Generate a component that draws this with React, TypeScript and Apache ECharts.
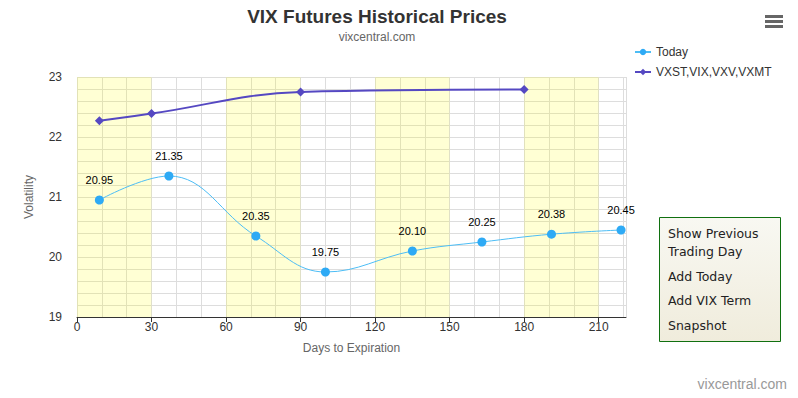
import React, { useEffect, useRef } from "react";
import * as echarts from "echarts";

const todayDays = [9, 37, 72, 100, 135, 163, 191, 219];
const todayValues = [20.95, 21.35, 20.35, 19.75, 20.1, 20.25, 20.38, 20.45];
const termDays = [9, 30, 90, 180];
const termValues = [22.27, 22.39, 22.75, 22.79];
const bandRanges = [
  [0, 30],
  [60, 90],
  [120, 150],
  [180, 210],
];
const seriesNames = ["Today", "VXST,VIX,VXV,VXMT"];
const menuItems = ["Show Previous", "Trading Day", "Add Today", "Add VIX Term", "Snapshot"];
const menuCenters = [233, 251, 276, 300, 325];

const FONT = "'Liberation Sans', Arial, sans-serif";

export default function App() {
  const ref = useRef<HTMLDivElement>(null);
  useEffect(() => {
    document.body.style.margin = "0";
    const chart = echarts.init(ref.current!, null, { renderer: "svg" });
    const xMin = 0;
    const xMax = 221;
    const option: any = {
      animation: false,
      backgroundColor: "#ffffff",
      textStyle: { fontFamily: FONT },
      graphic: [
        {
          type: "text",
          x: 377,
          y: 16,
          style: {
            text: "VIX Futures Historical Prices",
            fontSize: 19,
            fontWeight: "bold",
            fill: "#333333",
            fontFamily: FONT,
            align: "center",
            verticalAlign: "middle",
          },
        },
        {
          type: "text",
          x: 377,
          y: 37,
          style: {
            text: "vixcentral.com",
            fontSize: 12,
            fill: "#666666",
            fontFamily: FONT,
            align: "center",
            verticalAlign: "middle",
          },
        },
        { type: "rect", shape: { x: 765, y: 15, width: 18, height: 3 }, style: { fill: "#666666" } },
        { type: "rect", shape: { x: 765, y: 20, width: 18, height: 3 }, style: { fill: "#666666" } },
        { type: "rect", shape: { x: 765, y: 25, width: 18, height: 3 }, style: { fill: "#666666" } },
        {
          type: "rect",
          shape: { x: 659.5, y: 217.5, width: 121, height: 124 },
          style: {
            fill: new echarts.graphic.LinearGradient(0, 0, 0, 1, [
              { offset: 0, color: "#f8f8f2" },
              { offset: 1, color: "#f0ecdc" },
            ]),
            stroke: "#107010",
            lineWidth: 1,
          },
        },
        ...menuItems.map((t, i) => ({
          type: "text",
          x: 668,
          y: menuCenters[i],
          style: {
            text: t,
            fontSize: 12.5,
            fill: "#222222",
            verticalAlign: "middle",
            fontFamily: "'DejaVu Sans', Verdana, sans-serif",
          },
        })),
        {
          type: "text",
          right: 11,
          top: 377,
          style: { text: "vixcentral.com", fontSize: 14, fill: "#999999", fontFamily: FONT },
        },
      ],
      legend: {
        orient: "vertical",
        left: 629,
        top: 41,
        itemWidth: 16,
        itemHeight: 8,
        itemGap: 8,
        data: seriesNames,
        textStyle: { fontSize: 12, color: "#333333", fontFamily: FONT },
      },
      grid: { left: 77, right: 172, top: 77, bottom: 81, containLabel: false },
      xAxis: [
        {
          type: "value",
          min: xMin,
          max: xMax,
          interval: 10,
          axisLine: { show: false },
          axisTick: { show: false },
          axisLabel: { show: false },
          splitLine: { show: true, lineStyle: { color: "#dddddd", width: 1 } },
        },
        {
          type: "value",
          min: xMin,
          max: xMax,
          interval: 30,
          position: "bottom",
          name: "Days to Expiration",
          nameLocation: "middle",
          nameGap: 25,
          nameTextStyle: { fontSize: 12, color: "#666666", fontFamily: FONT },
          axisLine: { show: true, onZero: false, lineStyle: { color: "#333333", width: 1 } },
          axisTick: { show: true, length: 5, lineStyle: { color: "#333333" } },
          axisLabel: {
            fontSize: 12,
            color: "#333333",
            margin: 4,
            fontFamily: FONT,
            showMaxLabel: false,
          },
          splitLine: { show: false },
        },
      ],
      yAxis: {
        type: "value",
        min: 19,
        max: 23,
        interval: 0.2,
        name: "Volatility",
        nameLocation: "middle",
        nameGap: 42,
        nameTextStyle: { fontSize: 12, color: "#666666", fontFamily: FONT },
        axisLine: { show: false },
        axisTick: { show: false },
        axisLabel: {
          fontSize: 12,
          color: "#333333",
          margin: 15,
          fontFamily: FONT,
          formatter: (v: number) =>
            Math.abs(v - Math.round(v)) < 1e-6 ? String(Math.round(v)) : "",
        },
        splitLine: { show: true, lineStyle: { color: "#dddddd", width: 1 } },
      },
      series: [
        {
          name: "bands",
          type: "line",
          data: [],
          z: -1,
          silent: true,
          markArea: {
            silent: true,
            itemStyle: { color: "rgba(255,255,0,0.17)" },
            data: bandRanges.map((r) => [{ xAxis: r[0] }, { xAxis: r[1] }]),
          },
        },
        {
          name: seriesNames[0],
          type: "line",
          xAxisIndex: 0,
          smooth: 0.4,
          data: todayDays.map((d, i) => [d, todayValues[i]]),
          symbol: "circle",
          symbolSize: 9,
          showAllSymbol: true,
          lineStyle: { color: "#4dbdf5", width: 1 },
          itemStyle: { color: "#2eaaf5" },
          label: {
            show: true,
            position: "top",
            distance: 10,
            fontSize: 11,
            color: "#000000",
            fontFamily: FONT,
            formatter: (p: any) => p.value[1].toFixed(2),
          },
          z: 3,
        },
        {
          name: seriesNames[1],
          type: "line",
          xAxisIndex: 0,
          smooth: 0.4,
          data: termDays.map((d, i) => [d, termValues[i]]),
          symbol: "diamond",
          symbolSize: 9,
          lineStyle: { color: "#5548c2", width: 2 },
          itemStyle: { color: "#5548c2" },
          z: 3,
        },
      ],
    };
    chart.setOption(option);
    return () => chart.dispose();
  }, []);
  return <div ref={ref} style={{ width: 798, height: 398 }} />;
}
